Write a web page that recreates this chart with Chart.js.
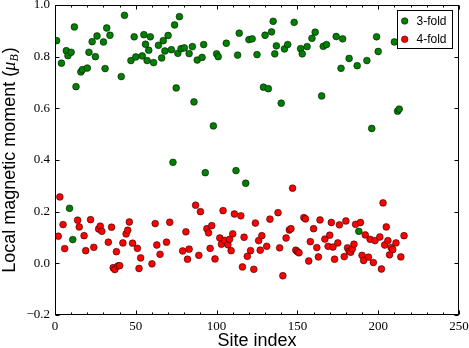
<!DOCTYPE html>
<html>
<head>
<meta charset="utf-8">
<script src="https://cdn.jsdelivr.net/npm/chart.js@4.4.0/dist/chart.umd.min.js"></script>
<style>
  html, body { margin: 0; padding: 0; background: #fff; }
</style>
</head>
<body>
<canvas id="momentChart" width="469" height="348"></canvas>
<script>
// values
const threeFoldSites = [1, 4, 7, 8, 9, 10, 11, 12, 13, 16, 17, 20, 21, 23, 25, 26, 30, 31, 32, 34,
  41, 43, 47, 49, 50, 54, 55, 56, 57, 58, 59, 61, 64, 66, 67, 68, 70, 72, 73, 74,
  75, 76, 77, 78, 80, 83, 85, 86, 88, 91, 92, 93, 98, 100, 101, 106, 112, 113, 114, 118,
  120, 122, 125, 129, 130, 132, 134, 135, 136, 137, 140, 142, 144, 148, 152, 153, 156, 159, 161, 165,
  166, 168, 174, 177, 178, 182, 187, 188, 193, 196, 199, 200, 210, 212, 213];
const threeFoldMoments = [0.862, 0.775, 0.823, 0.804, 0.213, 0.817, 0.092, 0.915, 0.684, 0.741, 0.750, 0.756, 0.817, 0.858, 0.800, 0.880, 0.857, 0.754, 0.911, 0.883,
  0.723, 0.960, 0.785, 0.877, 0.799, 0.803, 0.885, 0.848, 0.785, 0.825, 0.877, 0.777, 0.844, 0.795, 0.862, 0.822, 0.882, 0.827, 0.391, 0.923,
  0.679, 0.813, 0.955, 0.831, 0.834, 0.812, 0.839, 0.625, 0.787, 0.797, 0.847, 0.351, 0.532, 0.811, 0.800, 0.852, 0.359, 0.806, 0.891, 0.310,
  0.866, 0.869, 0.808, 0.682, 0.883, 0.676, 0.896, 0.937, 0.811, 0.842, 0.620, 0.830, 0.847, 0.933, 0.831, 0.811, 0.839, 0.871, 0.895, 0.648,
  0.840, 0.847, 0.878, 0.755, 0.869, 0.793, 0.765, 0.124, 0.785, 0.522, 0.877, 0.820, 0.857, 0.589, 0.597];

const fourFoldSites = [2, 3, 5, 6, 14, 15, 18, 19, 22, 24, 27, 28, 29, 33, 35, 36, 37, 38, 39, 40,
  42, 44, 45, 46, 48, 51, 52, 53, 60, 62, 63, 65, 69, 71, 79, 81, 82, 83, 87, 89,
  90, 94, 95, 96, 97, 99, 102, 103, 104, 105, 107, 108, 109, 110, 111, 115, 116, 117, 119, 121,
  123, 124, 126, 127, 128, 131, 133, 138, 139, 141, 143, 145, 146, 147, 149, 150, 151, 154, 155, 157,
  158, 160, 162, 163, 164, 167, 169, 170, 171, 172, 173, 175, 176, 179, 180, 181, 182, 183, 184, 185,
  186, 189, 190, 191, 192, 194, 195, 197, 198, 201, 202, 203, 204, 205, 206, 207, 208, 209, 211, 214, 216];
const fourFoldMoments = [0.105, 0.257, 0.150, 0.057, 0.167, 0.141, 0.107, 0.049, 0.169, 0.062, 0.133, 0.144, 0.124, 0.082, 0.140, -0.017, -0.024, 0.045, -0.010, -0.009,
  0.079, 0.114, 0.128, 0.160, 0.078, 0.058, -0.020, 0.021, -0.002, 0.154, 0.071, 0.035, 0.082, 0.159, 0.048, 0.122, 0.016, 0.055, 0.225, 0.031,
  0.200, 0.134, 0.118, 0.058, 0.146, 0.017, 0.098, 0.074, 0.204, 0.089, 0.072, 0.093, 0.049, 0.114, 0.191, 0.184, -0.014, 0.101, 0.027, 0.049,
  -0.023, 0.156, 0.088, 0.051, 0.107, 0.066, 0.171, 0.196, 0.060, -0.048, 0.098, 0.129, 0.134, 0.291, 0.051, 0.045, 0.041, 0.177, 0.172, 0.009,
  0.084, 0.134, 0.061, 0.025, 0.168, 0.094, 0.066, 0.109, 0.158, 0.063, 0.016, 0.079, 0.149, 0.026, 0.164, 0.060, 0.047, 0.043, 0.056, 0.074,
  0.151, 0.158, 0.031, 0.011, 0.110, 0.024, 0.093, 0.003, 0.088, 0.102, -0.022, 0.234, 0.071, 0.141, 0.088, 0.033, 0.061, 0.053, 0.079, 0.025, 0.107];

const seriesLabels = ['3-fold', '4-fold'];
const seriesColors = ['#008000', '#ff0000'];
const xTicks = [0, 50, 100, 150, 200, 250];
const xMinorStep = 10;
const yTicks = [-0.2, 0.0, 0.2, 0.4, 0.6, 0.8, 1.0];

const SANS = '"Liberation Sans", Arial, sans-serif';
const SERIF = '"Liberation Serif", "Times New Roman", serif';

function toPoints(xs, ys) {
  return xs.map((x, i) => ({ x: x, y: ys[i] }));
}

// frame with inward ticks on all four sides, legend box, axis titles
const framePlugin = {
  id: 'frame',
  afterDraw(chart) {
    const ctx = chart.ctx;
    const a = chart.chartArea;
    const xs = chart.scales.x, ys = chart.scales.y;
    ctx.save();
    ctx.strokeStyle = '#000';
    ctx.lineWidth = 1;
    const L = Math.round(a.left) + 0.5, R = Math.round(a.right) - 0.5;
    const T = Math.round(a.top) + 0.5, B = Math.round(a.bottom) - 0.5;
    ctx.strokeRect(L, T, R - L, B - T);

    ctx.beginPath();
    for (let v = xTicks[0]; v <= xTicks[xTicks.length - 1]; v += xMinorStep) {
      const px = Math.round(xs.getPixelForValue(v)) + 0.5;
      const len = xTicks.includes(v) ? 4 : 2;
      ctx.moveTo(px, B); ctx.lineTo(px, B - len);
      ctx.moveTo(px, T); ctx.lineTo(px, T + len);
    }
    yTicks.forEach(v => {
      const py = Math.round(ys.getPixelForValue(v)) + 0.5;
      ctx.moveTo(L, py); ctx.lineTo(L + 4, py);
      ctx.moveTo(R, py); ctx.lineTo(R - 4, py);
    });
    ctx.stroke();

    // legend
    ctx.fillStyle = '#fff';
    ctx.fillRect(397.5, 10.5, 55, 38);
    ctx.strokeRect(397.5, 10.5, 55, 38);
    ctx.font = '12px ' + SANS;
    ctx.textBaseline = 'middle';
    ctx.textAlign = 'left';
    seriesLabels.forEach((lab, i) => {
      const cy = 21 + i * 18.3;
      ctx.beginPath();
      ctx.arc(404.7, cy, 3.3, 0, Math.PI * 2);
      ctx.fillStyle = seriesColors[i];
      ctx.fill();
      ctx.lineWidth = 0.7;
      ctx.strokeStyle = 'rgba(0,0,0,0.75)';
      ctx.stroke();
      ctx.fillStyle = '#000';
      ctx.fillText(lab, 416.5, cy + 0.5);
    });

    // x title
    ctx.font = '18px ' + SANS;
    ctx.textAlign = 'center';
    ctx.textBaseline = 'alphabetic';
    ctx.fillStyle = '#000';
    ctx.fillText('Site index', (a.left + a.right) / 2, 345.5);

    // y title with subscript
    const main = 'Local magnetic moment (';
    const muFont = 'italic 18px ' + SERIF;
    const subFont = 'italic 12px ' + SERIF;
    ctx.font = '18px ' + SANS;
    const w1 = ctx.measureText(main).width;
    const w4 = ctx.measureText(')').width;
    ctx.font = muFont;
    const w2 = ctx.measureText('μ').width;
    ctx.font = subFont;
    const w3 = ctx.measureText('B').width;
    const total = w1 + w2 + w3 + w4 + 1;
    ctx.translate(15, (a.top + a.bottom) / 2);
    ctx.rotate(-Math.PI / 2);
    ctx.textAlign = 'left';
    let x0 = -total / 2;
    ctx.font = '18px ' + SANS;
    ctx.fillText(main, x0, 0); x0 += w1;
    ctx.font = muFont;
    ctx.fillText('μ', x0, 0); x0 += w2;
    ctx.font = subFont;
    ctx.fillText('B', x0, 3); x0 += w3 + 1;
    ctx.font = '18px ' + SANS;
    ctx.fillText(')', x0, 0);
    ctx.restore();
  }
};

const ctx = document.getElementById('momentChart').getContext('2d');
new Chart(ctx, {
  type: 'scatter',
  data: {
    datasets: [
      {
        label: seriesLabels[0],
        data: toPoints(threeFoldSites, threeFoldMoments),
        backgroundColor: seriesColors[0],
        borderColor: 'rgba(0,0,0,0.75)',
        borderWidth: 0.7,
        pointRadius: 3.4
      },
      {
        label: seriesLabels[1],
        data: toPoints(fourFoldSites, fourFoldMoments),
        backgroundColor: seriesColors[1],
        borderColor: 'rgba(0,0,0,0.75)',
        borderWidth: 0.7,
        pointRadius: 3.4
      }
    ]
  },
  options: {
    responsive: false,
    animation: false,
    devicePixelRatio: 1,
    layout: { padding: { top: 5, right: 10, left: 0, bottom: 0 } },
    plugins: {
      legend: { display: false },
      tooltip: { enabled: false }
    },
    scales: {
      x: {
        type: 'linear',
        min: 0,
        max: 250,
        afterBuildTicks: s => { s.ticks = xTicks.map(v => ({ value: v })); },
        afterFit: s => {
          s.height = 33;
          s.paddingLeft = 0;
          s.paddingRight = 0;
        },
        ticks: {
          color: '#000',
          font: { family: SERIF, size: 13 },
          padding: 4,
          maxRotation: 0
        },
        grid: { display: false, drawTicks: false },
        border: { display: false }
      },
      y: {
        min: -0.2,
        max: 1.0,
        afterBuildTicks: s => { s.ticks = yTicks.map(v => ({ value: v })); },
        afterFit: s => {
          s.width = 55;
          s.paddingTop = 0;
          s.paddingBottom = 0;
        },
        ticks: {
          color: '#000',
          font: { family: SERIF, size: 13 },
          padding: 5,
          callback: v => v.toFixed(1).replace('-', '\u2212')
        },
        grid: { display: false, drawTicks: false },
        border: { display: false }
      }
    }
  },
  plugins: [framePlugin]
});
</script>
</body>
</html>
